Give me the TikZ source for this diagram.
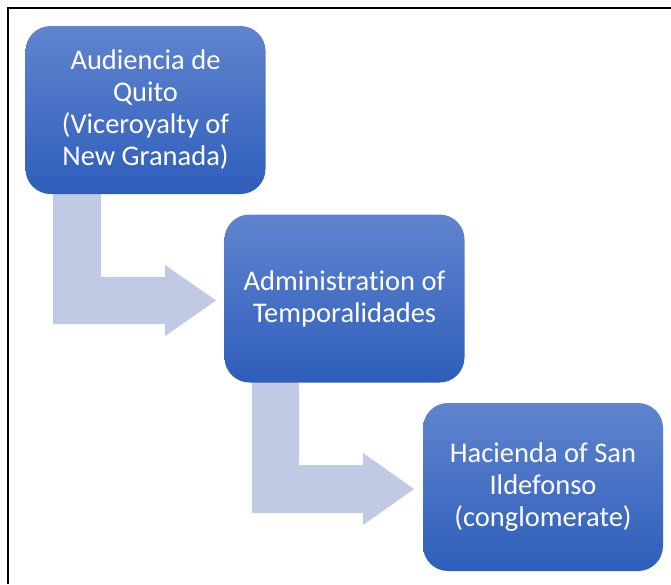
\documentclass[tikz,border=0pt]{standalone}
\usepackage{fontspec}
\setmainfont{Carlito}[Ligatures=CommonOff]
\usetikzlibrary{calc}
\definecolor{boxtop}{RGB}{96,132,207}
\definecolor{boxbot}{RGB}{46,94,186}
\definecolor{arrowfill}{RGB}{192,202,229}
\tikzset{
  stagebox/.style={rounded corners=25pt, minimum width=240pt, minimum height=168pt,
    top color=boxtop, bottom color=boxbot, draw=none, text=white, align=center,
    font=\fontsize{28.5}{32}\selectfont, inner sep=0pt},
  bentarrow/.style={fill=arrowfill, draw=none},
}
\begin{document}
\begin{tikzpicture}[x=1pt,y=-1pt]
\useasboundingbox (0,0) rectangle (671,584);
\fill[white] (0,0) rectangle (671,584);
% frame (top and left edges)
\draw[line width=2pt] (7.5,584) -- (7.5,7.5) -- (671,7.5);

% stage box centres
\coordinate (c1) at (145.5,110);
\coordinate (c2) at (344.5,298.5);
\coordinate (c3) at (543,487);

% bent arrows, drawn below the boxes
\fill[bentarrow] (53,190) -- (101,190) -- (101,277) -- (165,277) -- (165,265)
  -- (216,300.5) -- (165,336) -- (165,324) -- (53,324) -- cycle;
\fill[bentarrow] (252,378) -- (299,378) -- (299,465) -- (363,465) -- (363,453)
  -- (414,489) -- (363,525) -- (363,513) -- (252,513) -- cycle;

\node[stagebox] (quito) at (c1) {Audiencia de\\Quito\\(Viceroyalty of\\New Granada)};
\node[stagebox] (admin) at (c2) {Administration of\\Temporalidades};
\node[stagebox] (hacienda) at (c3) {Hacienda of San\\Ildefonso\\(conglomerate)};
\end{tikzpicture}
\end{document}
